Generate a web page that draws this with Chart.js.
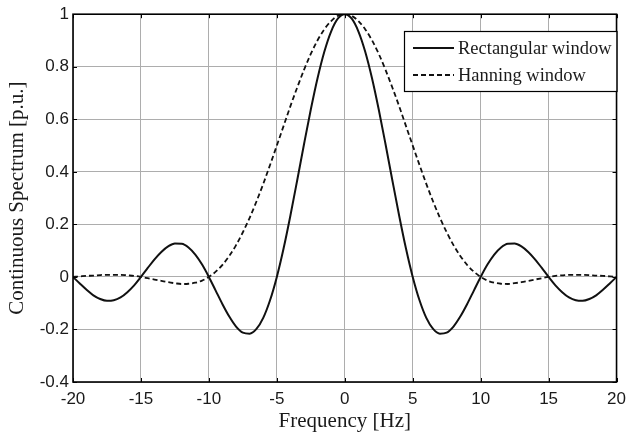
<!DOCTYPE html>
<html>
<head>
<meta charset="utf-8">
<script src="https://cdn.jsdelivr.net/npm/chart.js@4/dist/chart.umd.min.js"></script>
<style>
  html, body { margin: 0; padding: 0; background: #fff; }
  #wrap { width: 633px; height: 434px; }
</style>
</head>
<body>
<div id="wrap"><canvas id="chart" width="633" height="434"></canvas></div>
<script>
// frequency axis, 0.5 Hz apart
const freqHz = [
  -20, -19.5, -19, -18.5, -18, -17.5, -17, -16.5, -16, -15.5,
  -15, -14.5, -14, -13.5, -13, -12.5, -12, -11.5, -11, -10.5,
  -10, -9.5, -9, -8.5, -8, -7.5, -7, -6.5, -6, -5.5,
  -5, -4.5, -4, -3.5, -3, -2.5, -2, -1.5, -1, -0.5,
  0,
  0.5, 1, 1.5, 2, 2.5, 3, 3.5, 4, 4.5,
  5, 5.5, 6, 6.5, 7, 7.5, 8, 8.5, 9, 9.5,
  10, 10.5, 11, 11.5, 12, 12.5, 13, 13.5, 14, 14.5,
  15, 15.5, 16, 16.5, 17, 17.5, 18, 18.5, 19, 19.5, 20
]

// values
const rectangular = [
  0, -0.025, -0.049, -0.070, -0.084, -0.091, -0.089, -0.078, -0.058, -0.032,
  0, 0.034, 0.067, 0.095, 0.116, 0.127, 0.126, 0.112, 0.085, 0.047,
  0, -0.052, -0.104, -0.151, -0.189, -0.212, -0.216, -0.198, -0.156, -0.089,
  0, 0.109, 0.234, 0.368, 0.505, 0.637, 0.757, 0.858, 0.935, 0.984,
  1.000,
  0.984, 0.935, 0.858, 0.757, 0.637, 0.505, 0.368, 0.234, 0.109,
  0, -0.089, -0.156, -0.198, -0.216, -0.212, -0.189, -0.151, -0.104, -0.052,
  0, 0.047, 0.085, 0.112, 0.126, 0.127, 0.116, 0.095, 0.067, 0.034,
  0, -0.032, -0.058, -0.078, -0.089, -0.091, -0.084, -0.070, -0.049, -0.025, 0
]

const hanning = [
  0, 0.002, 0.004, 0.005, 0.007, 0.008, 0.008, 0.008, 0.006, 0.004,
  0, -0.005, -0.010, -0.015, -0.020, -0.024, -0.027, -0.026, -0.022, -0.014,
  0, 0.020, 0.046, 0.080, 0.121, 0.170, 0.225, 0.287, 0.354, 0.426,
  0.500, 0.575, 0.650, 0.721, 0.788, 0.849, 0.901, 0.943, 0.974, 0.994,
  1.000,
  0.994, 0.974, 0.943, 0.901, 0.849, 0.788, 0.721, 0.650, 0.575,
  0.500, 0.426, 0.354, 0.287, 0.225, 0.170, 0.121, 0.080, 0.046, 0.020,
  0, -0.014, -0.022, -0.026, -0.027, -0.024, -0.020, -0.015, -0.010, -0.005,
  0, 0.004, 0.006, 0.008, 0.008, 0.008, 0.007, 0.005, 0.004, 0.002, 0
]

const xTicks = [-20, -15, -10, -5, 0, 5, 10, 15, 20]
const yTicks = [-0.4, -0.2, 0, 0.2, 0.4, 0.6, 0.8, 1]

const textColour = '#1a1a1a'
const serif = '"Liberation Serif", "Times New Roman", serif'
const sans = '"Liberation Sans", Arial, sans-serif'

const toPoints = (ys) => freqHz.map((x, i) => ({ x, y: ys[i] }))

// frame round the plot, small inward ticks on all four sides, and the boxed legend
const framePlugin = {
  id: 'frame',
  afterDraw (chart) {
    const { ctx, chartArea: a, scales } = chart
    ctx.save()
    ctx.strokeStyle = '#000'
    ctx.lineWidth = 1
    const tl = 4
    ctx.beginPath()
    for (const v of xTicks) {
      const px = Math.round(scales.x.getPixelForValue(v)) + 0.5
      ctx.moveTo(px, a.bottom); ctx.lineTo(px, a.bottom - tl)
      ctx.moveTo(px, a.top); ctx.lineTo(px, a.top + tl)
    }
    for (const v of yTicks) {
      const py = Math.round(scales.y.getPixelForValue(v)) + 0.5
      ctx.moveTo(a.left, py); ctx.lineTo(a.left + tl, py)
      ctx.moveTo(a.right, py); ctx.lineTo(a.right - tl, py)
    }
    ctx.stroke()
    ctx.lineWidth = 1.6
    ctx.strokeRect(a.left, a.top, a.right - a.left, a.bottom - a.top)

    // legend
    const bx = 404
    const by = 31
    const bw = a.right - bx
    const bh = 60
    ctx.fillStyle = '#fff'
    ctx.fillRect(bx, by, bw, bh)
    ctx.lineWidth = 1.2
    ctx.strokeRect(bx + 0.5, by + 0.5, bw, bh)
    ctx.font = '18.5px ' + serif
    ctx.textBaseline = 'middle'
    ctx.fillStyle = textColour
    chart.data.datasets.forEach((ds, i) => {
      const cy = by + 17 + i * 27
      ctx.beginPath()
      ctx.strokeStyle = ds.borderColor
      ctx.lineWidth = ds.borderWidth
      ctx.setLineDash(ds.borderDash || [])
      ctx.moveTo(bx + 9, cy); ctx.lineTo(bx + 50, cy)
      ctx.stroke()
      ctx.setLineDash([])
      ctx.fillText(ds.label, bx + 54, cy + 1)
    })
    ctx.restore()
  }
}

new Chart(document.getElementById('chart'), {
  type: 'line',
  data: {
    datasets: [
      {
        label: 'Rectangular window',
        data: toPoints(rectangular),
        borderColor: '#111',
        borderWidth: 2,
        pointRadius: 0,
        tension: 0.4,
        cubicInterpolationMode: 'monotone'
      },
      {
        label: 'Hanning window',
        data: toPoints(hanning),
        borderColor: '#111',
        borderWidth: 1.8,
        borderDash: [5, 3],
        pointRadius: 0,
        tension: 0.4,
        cubicInterpolationMode: 'monotone'
      }
    ]
  },
  options: {
    responsive: false,
    animation: false,
    layout: { padding: { left: 0, right: 12, top: 14, bottom: 0 } },
    plugins: {
      legend: { display: false },
      tooltip: { enabled: false }
    },
    scales: {
      x: {
        type: 'linear',
        min: -20,
        max: 20,
        afterFit: (s) => { s.height = 52 },
        afterBuildTicks: (s) => { s.ticks = xTicks.map(v => ({ value: v })) },
        grid: { color: '#adadad', lineWidth: 1, drawTicks: false },
        border: { display: false },
        ticks: {
          color: textColour,
          font: { family: sans, size: 17 },
          padding: 7,
          maxRotation: 0,
          callback: (v) => String(v)
        },
        title: {
          display: true,
          text: 'Frequency [Hz]',
          color: textColour,
          font: { family: serif, size: 21 },
          padding: { top: 0, bottom: 0 }
        }
      },
      y: {
        type: 'linear',
        min: -0.4,
        max: 1,
        afterFit: (s) => { s.width = 73 },
        afterBuildTicks: (s) => { s.ticks = yTicks.map(v => ({ value: v })) },
        grid: { color: '#adadad', lineWidth: 1, drawTicks: false },
        border: { display: false },
        ticks: {
          color: textColour,
          font: { family: sans, size: 17 },
          padding: 4,
          callback: (v) => String(+v.toFixed(1))
        },
        title: {
          display: true,
          text: 'Continuous Spectrum [p.u.]',
          color: textColour,
          font: { family: serif, size: 21 },
          padding: { top: 5, bottom: 0 }
        }
      }
    }
  },
  plugins: [framePlugin]
})
</script>
</body>
</html>
